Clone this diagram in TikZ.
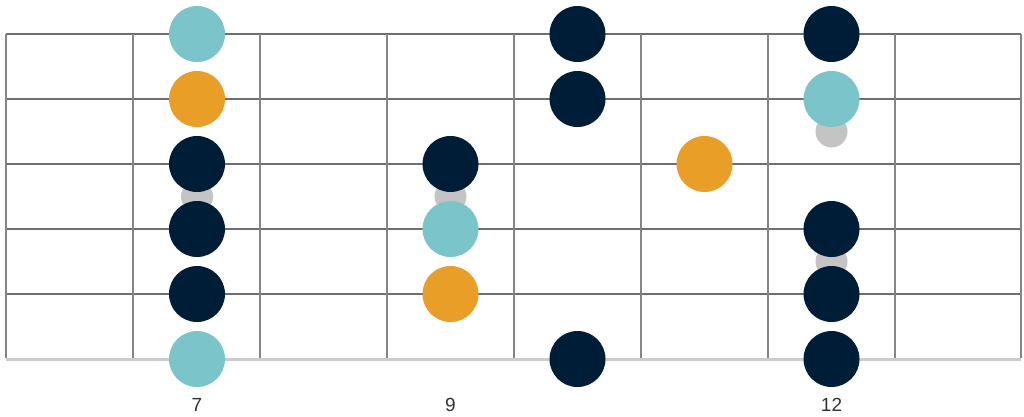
\documentclass[tikz,border=0pt]{standalone}
\usepackage{fontspec}
\setmainfont{Liberation Sans}
\definecolor{teal}{HTML}{7BC4C9}
\definecolor{orng}{HTML}{E99E27}
\definecolor{navy}{HTML}{001D38}
\definecolor{inlay}{HTML}{C4C4C4}
\definecolor{fretc}{HTML}{858585}
\definecolor{strc}{HTML}{6E6E6E}
\definecolor{lowstr}{HTML}{CCCCCC}
\definecolor{txt}{HTML}{333333}
\tikzset{
  note/.style={circle,inner sep=0pt,minimum size=56pt,draw=none},
  tnote/.style={note,fill=teal},
  onote/.style={note,fill=orng},
  nnote/.style={note,fill=navy},
  inlaydot/.style={circle,inner sep=0pt,minimum size=32pt,fill=inlay,draw=none},
  fretline/.style={draw=fretc,line width=2.4pt},
  stringline/.style={draw=strc,line width=1.1pt},
  lowstring/.style={draw=lowstr,line width=3pt},
  fretnum/.style={font=\fontsize{19}{22}\selectfont,text=txt,inner sep=0pt}
}
\begin{document}
\begin{tikzpicture}[x=1pt,y=-1pt]
\useasboundingbox (0,0) rectangle (1024,416);
\fill[white] (0,0) rectangle (1024,416);
% strings
\foreach \i/\y in {1/34,2/99,3/164,4/229,5/294} {
  \coordinate (sL\i) at (6,\y);
  \coordinate (sR\i) at (1021,\y);
  \draw[stringline] (sL\i) -- (sR\i);
}
\coordinate (sL6) at (6,359);
\coordinate (sR6) at (1021,359);
\draw[lowstring] (sL6) -- (sR6);
% frets
\foreach \j/\x in {0/6,1/133,2/260,3/387,4/514,5/641,6/768,7/895,8/1021} {
  \coordinate (fT\j) at (\x,34);
  \coordinate (fB\j) at (\x,358);
  \draw[fretline] (fT\j) -- (fB\j);
}
% inlay markers
\node[inlaydot] (m7) at (197,196.5) {};
\node[inlaydot] (m9) at (450.5,196.5) {};
\node[inlaydot] (m12a) at (831.5,131.5) {};
\node[inlaydot] (m12b) at (831.5,261.5) {};
% fret 7
\node[tnote] (a1) at (197,34) {};
\node[onote] (a2) at (197,99) {};
\node[nnote] (a3) at (197,164) {};
\node[nnote] (a4) at (197,229) {};
\node[nnote] (a5) at (197,294) {};
\node[tnote] (a6) at (197,359) {};
% fret 9
\node[nnote] (b3) at (450.5,164) {};
\node[tnote] (b4) at (450.5,229) {};
\node[onote] (b5) at (450.5,294) {};
% fret 10
\node[nnote] (c1) at (577.5,34) {};
\node[nnote] (c2) at (577.5,99) {};
\node[nnote] (c6) at (577.5,359) {};
% fret 11
\node[onote] (d3) at (704.5,164) {};
% fret 12
\node[nnote] (e1) at (831.5,34) {};
\node[tnote] (e2) at (831.5,99) {};
\node[nnote] (e4) at (831.5,229) {};
\node[nnote] (e5) at (831.5,294) {};
\node[nnote] (e6) at (831.5,359) {};
% fret numbers
\node[fretnum] (n7) at (197,405) {7};
\node[fretnum] (n9) at (450.5,405) {9};
\node[fretnum] (n12) at (831.5,405) {12};
\end{tikzpicture}
\end{document}
